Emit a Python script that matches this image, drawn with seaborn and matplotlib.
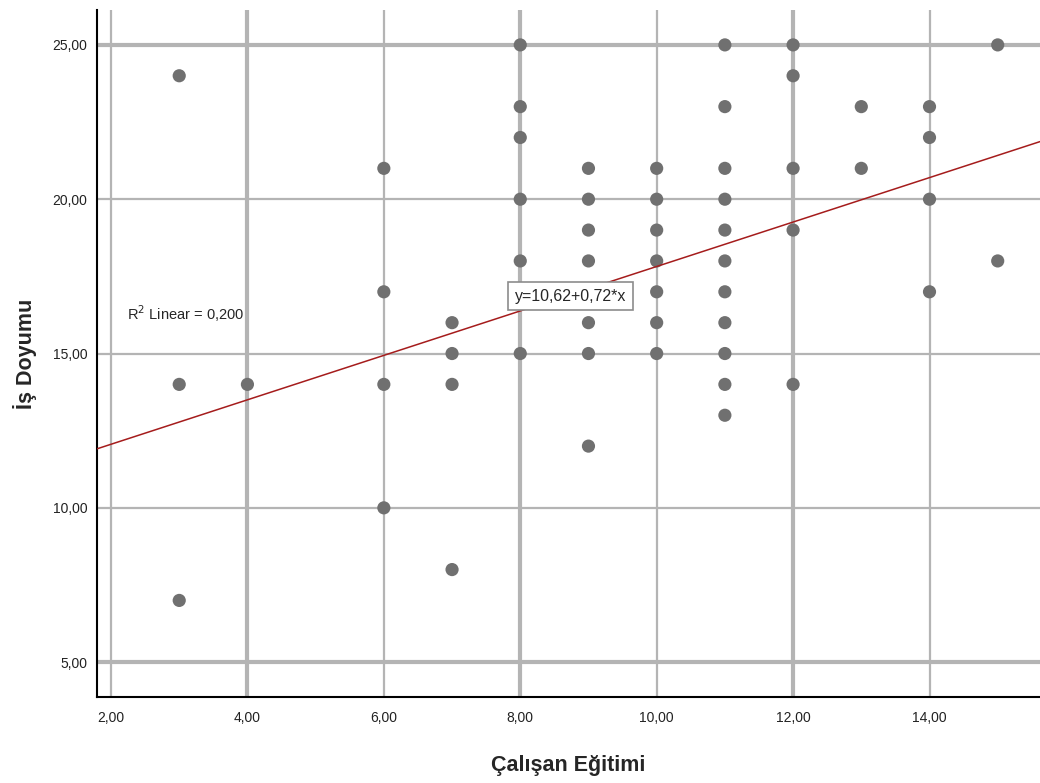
import matplotlib
matplotlib.use("Agg")
import matplotlib.pyplot as plt
from matplotlib.ticker import FuncFormatter, FixedLocator
import numpy as np
import pandas as pd
import seaborn as sns

# Employee training (x) and job satisfaction (y) observations
egitim = [3, 3, 3,
          4,
          6, 6, 6, 6,
          7, 7, 7, 7,
          8, 8, 8, 8, 8, 8,
          9, 9, 9, 9, 9, 9, 9,
          10, 10, 10, 10, 10, 10, 10,
          11, 11, 11, 11, 11, 11, 11, 11, 11, 11, 11,
          12, 12, 12, 12, 12,
          13, 13,
          14, 14, 14, 14,
          15, 15]
doyum = [24, 14, 7,
         14,
         21, 17, 14, 10,
         16, 15, 14, 8,
         25, 23, 22, 20, 18, 15,
         21, 20, 19, 18, 16, 15, 12,
         21, 20, 19, 18, 17, 16, 15,
         25, 23, 21, 20, 19, 18, 17, 16, 15, 14, 13,
         25, 24, 21, 19, 14,
         23, 21,
         23, 22, 20, 17,
         25, 18]

# Linear fit reported on the chart
intercept = 10.62
slope = 0.72
r2 = 0.200

x_ticks = [2, 4, 6, 8, 10, 12, 14]
y_ticks = [5, 10, 15, 20, 25]

df = pd.DataFrame({"Çalışan Eğitimi": egitim, "İş Doyumu": doyum})

sns.set_style("white")
plt.rcParams["font.family"] = ["Liberation Sans", "DejaVu Sans"]

fig = plt.figure(figsize=(10.4, 7.83), dpi=100)
ax = fig.add_axes([0.0933, 0.1098, 0.9067, 0.8774])

xlim = (1.795, 15.62)
ylim = (3.87, 26.13)
ax.set_xlim(*xlim)
ax.set_ylim(*ylim)

# Grid: major lines (4, 8, 12 / 5, 25) drawn heavier than the rest
grid_col = "#b4b4b4"
for v in x_ticks:
    ax.axvline(v, color=grid_col, lw=3.0 if v in (4, 8, 12) else 1.6, zorder=0)
for v in y_ticks:
    ax.axhline(v, color=grid_col, lw=3.0 if v in (5, 25) else 1.6, zorder=0)

sns.scatterplot(data=df, x="Çalışan Eğitimi", y="İş Doyumu", ax=ax,
                color="#707070", s=90, edgecolor="none", linewidth=0, zorder=3)

# Fit line across the whole x range
xs = np.array(xlim)
ax.plot(xs, intercept + slope * xs, color="#a51c1c", lw=1.1, zorder=4)

fmt = FuncFormatter(lambda v, p: f"{v:.2f}".replace(".", ","))
ax.xaxis.set_major_locator(FixedLocator(x_ticks))
ax.yaxis.set_major_locator(FixedLocator(y_ticks))
ax.xaxis.set_major_formatter(fmt)
ax.yaxis.set_major_formatter(fmt)
ax.tick_params(axis="both", length=0, labelsize=10, colors="#222222")
ax.tick_params(axis="x", pad=10)
ax.tick_params(axis="y", pad=7)

for side in ("top", "right"):
    ax.spines[side].set_visible(False)
for side in ("left", "bottom"):
    ax.spines[side].set_color("black")
    ax.spines[side].set_linewidth(1.5)

ax.set_xlabel("Çalışan Eğitimi", fontsize=15.5, fontweight="bold", va="center")
ax.set_ylabel("İş Doyumu", fontsize=15.5, fontweight="bold", va="center")
ax.xaxis.set_label_coords(0.5, -0.099)
ax.yaxis.set_label_coords(-0.076, 0.5)

ax.text(2.23, 16.3, f"R$^2$ Linear = {r2:.3f}".replace(".", ","),
        fontsize=10.5, ha="left", va="center", zorder=5)

eq = f"y={intercept:.2f}+{slope:.2f}*x".replace(".", ",")
ax.text(7.92, 16.86, eq, fontsize=11.5, ha="left", va="center", zorder=6,
        bbox=dict(boxstyle="square,pad=0.4", facecolor="white",
                  edgecolor="#8c8c8c", linewidth=1.2))

fig.savefig("out.png", dpi=100)
